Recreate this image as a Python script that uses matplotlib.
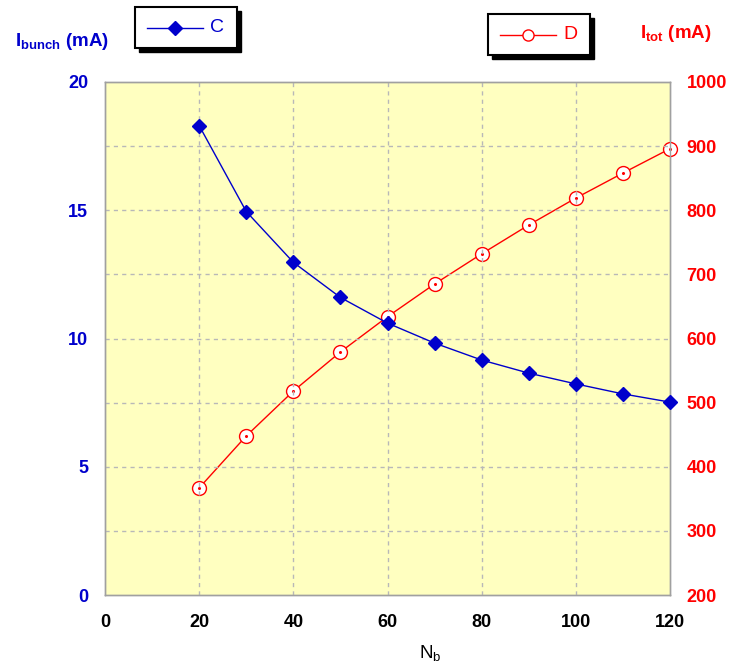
import matplotlib
matplotlib.use("Agg")
import matplotlib.pyplot as plt
from matplotlib.patches import Rectangle
from matplotlib.lines import Line2D

plt.rcParams['font.family'] = ['Liberation Sans', 'DejaVu Sans']

nb = [20, 30, 40, 50, 60, 70, 80, 90, 100, 110, 120]
i_bunch = [18.3, 14.95, 12.97, 11.6, 10.6, 9.82, 9.16, 8.65, 8.23, 7.84, 7.52]
i_tot = [367, 448, 518, 579, 634, 685, 732, 777, 819, 858, 896]
x_ticks = [0, 20, 40, 60, 80, 100, 120]
left_ticks = [0, 5, 10, 15, 20]
right_ticks = [200, 300, 400, 500, 600, 700, 800, 900, 1000]

BLUE = '#0000CC'
RED = '#FF0000'

fig = plt.figure(figsize=(7.31, 6.72), dpi=100)
ax = fig.add_axes([105/731, 1 - 595/672, 565/731, 513/672])
ax.set_xlim(0, 120)
ax.set_ylim(0, 20)
ax2 = ax.twinx()
ax2.set_ylim(200, 1000)

fig.patches.append(Rectangle((105/731, 1 - 595/672), 565/731, 513/672, transform=fig.transFigure,
                             facecolor='#FFFFC0', edgecolor='none', zorder=-10))

# grid
for gx in [20, 40, 60, 80, 100]:
    ax.axvline(gx, color='#b8b8b8', lw=1, ls=(0, (3, 3)), zorder=0.5)
for gy in [2.5, 5, 7.5, 10, 12.5, 15, 17.5]:
    ax.axhline(gy, color='#b8b8b8', lw=1, ls=(0, (3, 3)), zorder=0.5)

for a in (ax, ax2):
    for s in a.spines.values():
        s.set_color('#a0a0a0')
        s.set_linewidth(1)
    a.tick_params(length=0)

ax.set_xticks(x_ticks)
ax.set_yticks(left_ticks)
ax2.set_yticks(right_ticks)
ax.tick_params(axis='x', pad=14, labelsize=13, labelcolor='black')
ax.tick_params(axis='y', pad=12, labelsize=13, labelcolor=BLUE)
ax2.tick_params(axis='y', pad=12, labelsize=13, labelcolor=RED)
for lab in ax.get_xticklabels() + ax.get_yticklabels() + ax2.get_yticklabels():
    lab.set_fontweight('bold')

ax.plot(nb, i_bunch, color=BLUE, lw=1, marker='D', ms=7, mfc=BLUE, mec=BLUE, zorder=3, clip_on=False)
ax2.plot(nb, i_tot, color=RED, lw=1, marker='o', ms=10, mfc='white', mec=RED, mew=1, zorder=3, clip_on=False)
ax2.plot(nb, i_tot, ls='none', marker='o', ms=1.2, mfc=RED, mec=RED, zorder=4, clip_on=False)
ax.set_zorder(ax2.get_zorder() + 1)
ax.patch.set_visible(False)
ax2.patch.set_visible(False)

# axis labels
fig.text(15/731, 1 - 41/672, r'I$_{\mathregular{bunch}}$ (mA)', color=BLUE, fontsize=13.5,
         fontweight='bold', ha='left', va='center')
fig.text(640/731, 1 - 33/672, r'I$_{\mathregular{tot}}$ (mA)', color=RED, fontsize=13.5,
         fontweight='bold', ha='left', va='center')
fig.text(419/731, 1 - 654/672, r'N$_{\mathregular{b}}$', color='black', fontsize=13.5,
         ha='left', va='center')


def legend_box(x0, y0, w, h, color, marker, mfc, ms, label):
    fig.patches.append(Rectangle((x0 + 4, y0 - 4), w, h, transform=None, facecolor='black',
                                 edgecolor='black', zorder=5))
    fig.patches.append(Rectangle((x0, y0), w, h, transform=None, facecolor='white',
                                 edgecolor='black', lw=1.5, zorder=6))
    fig.lines.append(Line2D([x0 + 12, x0 + 68], [y0 + h / 2, y0 + h / 2], transform=None,
                            color=color, lw=1, zorder=7))
    fig.lines.append(Line2D([x0 + 40], [y0 + h / 2], transform=None, color=color, marker=marker,
                            ms=ms, mfc=mfc, mec=color, zorder=8))
    fig.text(x0 + 75, y0 + h / 2, label, color=color, fontsize=14, ha='left', va='center',
             transform=None, zorder=9)


H = 672
legend_box(135, H - 48, 102, 41, BLUE, 'D', BLUE, 7, 'C')
legend_box(488, H - 55, 102, 41, RED, 'o', 'white', 8, 'D')

fig.savefig('out.png', dpi=100)
